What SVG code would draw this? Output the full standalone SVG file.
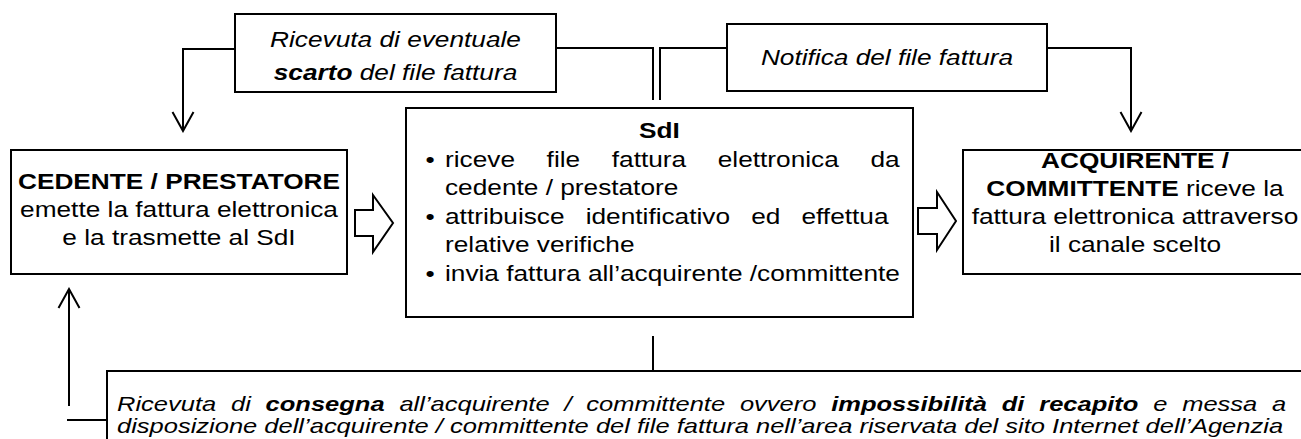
<svg xmlns="http://www.w3.org/2000/svg" width="1301" height="439" viewBox="0 0 1301 439">
<defs>
<style>
.box{fill:#fff;stroke:#000;stroke-width:2}
.ln{fill:none;stroke:#000;stroke-width:2}
.blk{fill:#fff;stroke:#000;stroke-width:2;stroke-linejoin:miter}
.t{font-family:"Liberation Sans",Arial,sans-serif;font-size:22px;fill:#000}
.s{font-size:20.5px}
.b{font-weight:bold}
.i{font-style:italic}
</style>
<marker id="v" markerUnits="userSpaceOnUse" viewBox="-22 -14 24 28" refX="0" refY="0" markerWidth="24" markerHeight="28" orient="auto">
<path d="M-19,-10.5 L0,0 L-19,10.5" fill="none" stroke="#000" stroke-width="2"/>
</marker>
</defs>
<rect width="1301" height="439" fill="#fff"/>

<g id="connectors">
<path class="ln" d="M653,336 V371"/>
<path class="ln" d="M653,100 V48 H556"/>
<path class="ln" d="M235,49 H183 V131" marker-end="url(#v)"/>
<path class="ln" d="M660,100 V48 H727"/>
<path class="ln" d="M1047,48 H1131 V131" marker-end="url(#v)"/>
<path class="ln" d="M107,420 H67"/>
<path class="ln" d="M69,406 V289" marker-end="url(#v)"/>
<polygon class="blk" points="355,210 373,210 373,195 393,223 373,252 373,236 355,236"/>
<polygon class="blk" points="918,208 937,208 937,192 956,221 937,250 937,234 918,234"/>
</g>

<g id="scarto">
<rect class="box" x="235" y="14" width="321" height="78"/>
<text class="t i" transform="matrix(1.193 0 0 1 395.5 0)" x="0" y="47" text-anchor="middle">Ricevuta di eventuale</text>
<text class="t i" transform="matrix(1.193 0 0 1 395.5 0)" x="0" y="80" text-anchor="middle"><tspan class="b">scarto</tspan> del file fattura</text>
</g>

<g id="notifica">
<rect class="box" x="727" y="24" width="320" height="67"/>
<text class="t i" transform="matrix(1.193 0 0 1 887 0)" x="0" y="65" text-anchor="middle">Notifica del file fattura</text>
</g>

<g id="cedente">
<rect class="box" x="11" y="150" width="336" height="124"/>
<text class="t b" transform="matrix(1.193 0 0 1 179 0)" x="0" y="189" text-anchor="middle">CEDENTE / PRESTATORE</text>
<text class="t" transform="matrix(1.193 0 0 1 179 0)" x="0" y="217" text-anchor="middle">emette la fattura elettronica</text>
<text class="t" transform="matrix(1.193 0 0 1 179 0)" x="0" y="245" text-anchor="middle">e la trasmette al SdI</text>
</g>

<g id="sdi">
<rect class="box" x="406" y="108" width="507" height="209"/>
<text class="t b" transform="matrix(1.193 0 0 1 659.5 0)" x="0" y="138" text-anchor="middle">SdI</text>
<text class="t" transform="matrix(1.193 0 0 1 430 0)" x="0" y="167" text-anchor="middle">•</text>
<text class="t" transform="matrix(1.193 0 0 1 430 0)" x="0" y="224" text-anchor="middle">•</text>
<text class="t" transform="matrix(1.193 0 0 1 430 0)" x="0" y="281" text-anchor="middle">•</text>
<text class="t" transform="matrix(1.193 0 0 1 445 0)" x="0" y="167" style="word-spacing:20.4px">riceve file fattura elettronica da</text>
<text class="t" transform="matrix(1.193 0 0 1 445 0)" x="0" y="195">cedente / prestatore</text>
<text class="t" transform="matrix(1.193 0 0 1 445 0)" x="0" y="224" style="word-spacing:11.6px">attribuisce identificativo ed effettua</text>
<text class="t" transform="matrix(1.193 0 0 1 445 0)" x="0" y="252">relative verifiche</text>
<text class="t" transform="matrix(1.193 0 0 1 445 0)" x="0" y="281">invia fattura all’acquirente /committente</text>
</g>

<g id="acquirente">
<rect class="box" x="963" y="150" width="350" height="124"/>
<text class="t b" transform="matrix(1.193 0 0 1 1135 0)" x="0" y="168" text-anchor="middle">ACQUIRENTE /</text>
<text class="t" transform="matrix(1.193 0 0 1 1135 0)" x="0" y="196" text-anchor="middle"><tspan class="b">COMMITTENTE</tspan> riceve la</text>
<text class="t" transform="matrix(1.193 0 0 1 1135 0)" x="0" y="224" text-anchor="middle">fattura elettronica attraverso</text>
<text class="t" transform="matrix(1.193 0 0 1 1135 0)" x="0" y="252" text-anchor="middle">il canale scelto</text>
</g>

<g id="consegna">
<rect class="box" x="107" y="371" width="1210" height="100"/>
<text class="t s i" transform="matrix(1.244 0 0 1 117 0)" x="0" y="411" style="word-spacing:6.2px">Ricevuta di <tspan class="b">consegna</tspan> all’acquirente / committente ovvero <tspan class="b">impossibilità di recapito</tspan> e messa a</text>
<text class="t s i" transform="matrix(1.244 0 0 1 117 0)" x="0" y="433">disposizione dell’acquirente / committente del file fattura nell’area riservata del sito Internet dell’Agenzia</text>
</g>
</svg>
